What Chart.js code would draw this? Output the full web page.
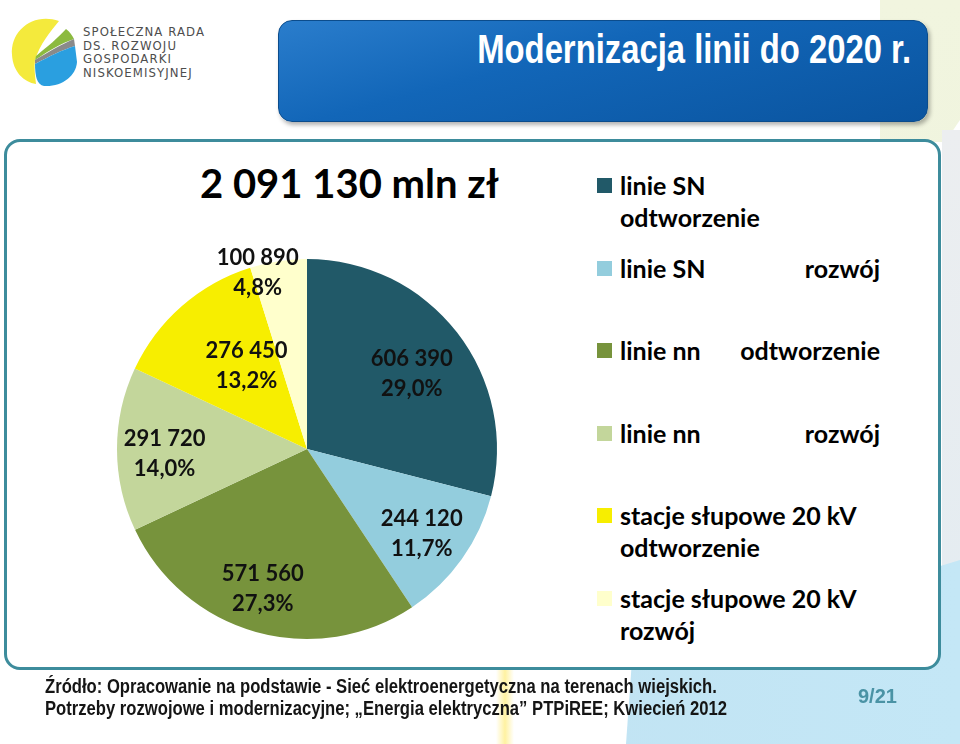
<!DOCTYPE html>
<html lang="pl">
<head>
<meta charset="utf-8">
<title>Modernizacja linii do 2020 r.</title>
<script src="https://cdn.jsdelivr.net/npm/chart.js@4.4.1/dist/chart.umd.min.js"></script>
<style>
  html, body { margin: 0; padding: 0; }
  body { width: 960px; height: 744px; position: relative; overflow: hidden; background: #fff; font-family: Lato, "Noto Sans", sans-serif; }
  .abs { position: absolute; }
  #bgBlue { left: 0; top: 0; width: 960px; height: 744px;
    background: linear-gradient(90deg, #b6d2e2 0%, #c0e2f2 40%, #c4e7f6 100%);
    clip-path: polygon(632px 660px, 960px 560px, 960px 744px, 626px 744px); }
  #bgGlow { left: 496px; top: 660px; width: 18px; height: 84px;
    background: linear-gradient(90deg, rgba(255,245,170,0) 0%, rgba(255,240,150,.9) 50%, rgba(255,245,170,0) 100%); }
  #bgGreen { left: 0; top: 0; width: 960px; height: 744px;
    background: linear-gradient(180deg, #f1f5df 0%, #edf1dc 100%);
    clip-path: polygon(880px 0, 960px 0, 960px 120px, 945px 142px, 880px 142px); }
  #bgGray { left: 942px; top: 130px; width: 18px; height: 480px; background: linear-gradient(180deg, #eceef0, #e4ecf1); }
  #banner { left: 278px; top: 20px; width: 648px; height: 100px; border-radius: 14px;
    background: linear-gradient(165deg, #2a7dcc 0%, #1266b8 40%, #0a549f 100%);
    border: 1.5px solid #0b4c8c; box-shadow: 2px 3px 4px rgba(0,0,0,.3); }
  #bannerTitle { right: 16px; top: 6px; color: #fff; font: bold 40px "Liberation Sans Narrow", "Arial Narrow", "Liberation Sans", sans-serif; white-space: nowrap; transform-origin: right center; }
  #panel { left: 4px; top: 139px; width: 931px; height: 525px; border: 3px solid #3d8c9c; border-radius: 16px; background: #fff; }
  #total { left: 200px; top: 159px; font: bold 40px Lato, sans-serif; line-height: 48px; color: #000; white-space: nowrap; }
  #chartBox { left: 67px; top: 209px; width: 480px; height: 480px; }
  #legend { left: 597px; top: 169px; width: 300px; }
  .item { position: relative; height: 82.5px; font: bold 25px Lato, sans-serif; line-height: 32px; color: #000; }
  .item .box { position: absolute; left: 0; top: 9px; width: 15px; height: 15px; }
  .item .txt { position: absolute; left: 23px; top: 0; white-space: nowrap; }
  .item .split { position: absolute; left: 23px; width: 260px; top: 0; display: flex; justify-content: space-between; white-space: nowrap; }
  #source { left: 45px; top: 675px; font: bold 20.3px "Liberation Sans Narrow", "Arial Narrow", "Liberation Sans", sans-serif; line-height: 22px; color: #151515; white-space: nowrap; transform-origin: left top; }
  #page { left: 858px; top: 685px; font: bold 20px "Liberation Sans", Arial, sans-serif; color: #4a93a5; }
  #logoText { left: 83px; top: 25px; font: 13px "Liberation Sans Narrow", "DejaVu Sans Condensed", sans-serif; letter-spacing: 1.1px; line-height: 13.7px; color: #4d4d4d; }
</style>
</head>
<body>
<div id="bgGreen" class="abs"></div>
<div id="bgGray" class="abs"></div>
<div id="bgBlue" class="abs"></div>
<div id="bgGlow" class="abs"></div>

<svg class="abs" style="left:0;top:0" width="80" height="90" viewBox="0 0 80 90">
  <path d="M59 21 C34 12 10 30 12 55 C13 72 24 82 36 84 C35 76 34 68 35 60 C40 44 50 32 59 21 Z" fill="#f4ea3c"/>
  <path d="M36 56 C48 46 58 38 66 29 C70 32 72 35 74 39 C62 43 50 50 35 60 Z" fill="#8cba3f"/>
  <path d="M35 60 C50 51 62 44 74 39 L75 46 C62 50 50 56 35 64 Z" fill="#8a8a8a"/>
  <path d="M35 64 C50 56 62 50 75 46 L77 62 C76 76 62 87 44 86 C37 85 35 76 35 64 Z" fill="#2a9fe0"/>
</svg>
<div id="logoText" class="abs">SPOŁECZNA RADA<br>DS. ROZWOJU<br>GOSPODARKI<br>NISKOEMISYJNEJ</div>

<div id="banner" class="abs"><div id="bannerTitle" class="abs">Modernizacja linii do 2020 r.</div></div>

<div id="panel" class="abs"></div>
<div id="total" class="abs"></div>
<div id="chartBox" class="abs"><canvas id="pieChart"></canvas></div>
<div id="legend" class="abs"></div>

<div id="source" class="abs">Źródło: Opracowanie na podstawie - Sieć elektroenergetyczna na terenach wiejskich.<br>Potrzeby rozwojowe i modernizacyjne; „Energia elektryczna” PTPiREE; Kwiecień 2012</div>
<div id="page" class="abs">9/21</div>

<script>
// dane (mln zł)
const groups = ['linie SN', 'linie SN', 'linie nn', 'linie nn', 'stacje słupowe 20 kV', 'stacje słupowe 20 kV'];
const kinds = ['odtworzenie', 'rozwój', 'odtworzenie', 'rozwój', 'odtworzenie', 'rozwój'];
const values = [606390, 244120, 571560, 291720, 276450, 100890];
const unit = 'mln zł';

const categories = groups.map((g, i) => g + ' ' + kinds[i]);
const sliceColors = ['#215968', '#93cddd', '#77933c', '#c3d69b', '#f7ee00', '#ffffcc'];

function fmt(n) {
  return String(n).replace(/\B(?=(\d{3})+(?!\d))/g, ' ');
}

// fake narrow font if Liberation Sans Narrow is missing
function hasFont(name) {
  const c = document.createElement('canvas').getContext('2d');
  c.font = '40px monospace';
  const a = c.measureText('Modernizacja').width;
  c.font = '40px "' + name + '", monospace';
  return c.measureText('Modernizacja').width !== a;
}
if (!hasFont('Liberation Sans Narrow') && !hasFont('Arial Narrow')) {
  document.getElementById('bannerTitle').style.transform = 'scaleX(0.82)';
  document.getElementById('source').style.transform = 'scaleX(0.82)';
}

const total = values.reduce((a, b) => a + b, 0);
document.getElementById('total').textContent = fmt(total) + ' ' + unit;

const sliceLabels = {
  id: 'sliceLabels',
  afterDatasetsDraw(chart, args, opts) {
    const ctx = chart.ctx;
    const data = chart.data.datasets[0].data;
    const sum = data.reduce((a, b) => a + b, 0);
    ctx.save();
    ctx.font = opts.font;
    ctx.fillStyle = opts.color;
    ctx.textAlign = 'center';
    ctx.textBaseline = 'middle';
    chart.getDatasetMeta(0).data.forEach((arc, i) => {
      const p = arc.getProps(['x', 'y', 'startAngle', 'endAngle', 'outerRadius'], true);
      const a = (p.startAngle + p.endAngle) / 2 + opts.turn[i] * Math.PI / 180;
      const r = p.outerRadius * opts.dist[i];
      const cx = p.x + Math.cos(a) * r;
      const cy = p.y + Math.sin(a) * r;
      const pct = (data[i] / sum * 100).toFixed(1).replace('.', ',') + '%';
      ctx.fillText(fmt(data[i]), cx, cy - opts.lineHeight / 2);
      ctx.fillText(pct, cx, cy + opts.lineHeight / 2);
    });
    ctx.restore();
  }
};

const chart = new Chart(document.getElementById('pieChart'), {
  type: 'pie',
  data: {
    labels: categories,
    datasets: [{
      data: values,
      backgroundColor: sliceColors,
      borderWidth: 0
    }]
  },
  options: {
    responsive: true,
    maintainAspectRatio: false,
    animation: false,
    events: [],
    layout: { padding: 50 },
    plugins: {
      legend: { display: false },
      tooltip: { enabled: false },
      sliceLabels: {
        font: 'bold 22px Lato, sans-serif',
        color: '#111',
        lineHeight: 30,
        dist: [0.68, 0.75, 0.77, 0.75, 0.54, 0.96],
        turn: [2, 1, 2, -2, 5, -7]
      }
    }
  },
  plugins: [sliceLabels]
});

// legenda
const wrapped = [true, false, false, false, true, true];
const legend = document.getElementById('legend');
chart.data.labels.forEach((lbl, i) => {
  const item = document.createElement('div');
  item.className = 'item';
  const box = document.createElement('div');
  box.className = 'box';
  box.style.background = chart.data.datasets[0].backgroundColor[i];
  item.appendChild(box);
  if (wrapped[i]) {
    const t = document.createElement('div');
    t.className = 'txt';
    t.innerHTML = groups[i] + '<br>' + kinds[i];
    item.appendChild(t);
  } else {
    const t = document.createElement('div');
    t.className = 'split';
    t.innerHTML = '<span>' + groups[i] + '</span><span>' + kinds[i] + '</span>';
    item.appendChild(t);
  }
  legend.appendChild(item);
});
</script>
</body>
</html>
